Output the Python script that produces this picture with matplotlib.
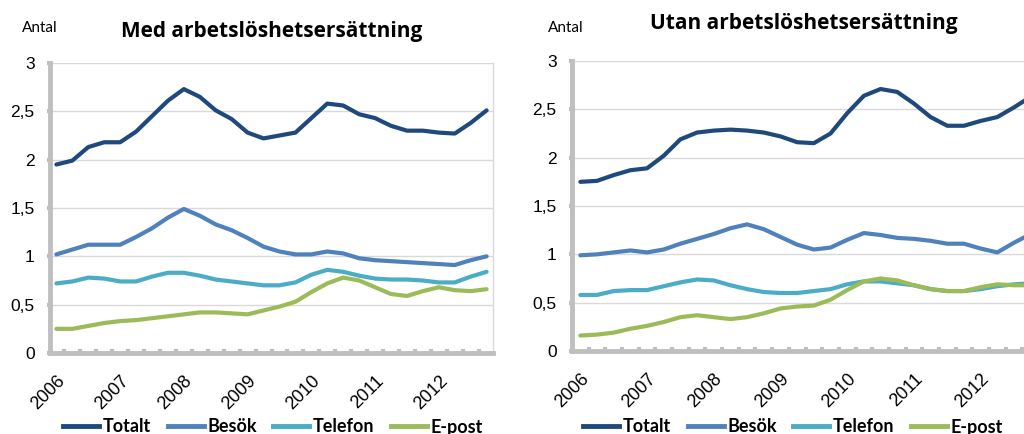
import matplotlib.pyplot as plt
import numpy as np
from matplotlib.lines import Line2D

# kvartalsvärden 2006 Q1 - 2012 Q4
years = ['2006', '2007', '2008', '2009', '2010', '2011', '2012']
series_names = ['Totalt', 'Besök', 'Telefon', 'E-post']
colors = ['#1F497D', '#4F81BD', '#4BACC6', '#9BBB59']

med_totalt = [1.95, 1.99, 2.13, 2.18, 2.18, 2.29, 2.45, 2.61, 2.73, 2.65, 2.51, 2.42, 2.28, 2.22,
              2.25, 2.28, 2.43, 2.58, 2.56, 2.47, 2.43, 2.35, 2.30, 2.30, 2.28, 2.27, 2.38, 2.51]
med_besok = [1.02, 1.07, 1.12, 1.12, 1.12, 1.20, 1.29, 1.40, 1.49, 1.42, 1.33, 1.27, 1.19, 1.10,
             1.05, 1.02, 1.02, 1.05, 1.03, 0.98, 0.96, 0.95, 0.94, 0.93, 0.92, 0.91, 0.96, 1.00]
med_telefon = [0.72, 0.74, 0.78, 0.77, 0.74, 0.74, 0.79, 0.83, 0.83, 0.80, 0.76, 0.74, 0.72, 0.70,
               0.70, 0.73, 0.81, 0.86, 0.84, 0.80, 0.77, 0.76, 0.76, 0.75, 0.73, 0.73, 0.79, 0.84]
med_epost = [0.25, 0.25, 0.28, 0.31, 0.33, 0.34, 0.36, 0.38, 0.40, 0.42, 0.42, 0.41, 0.40, 0.44,
             0.48, 0.53, 0.63, 0.72, 0.78, 0.75, 0.68, 0.61, 0.59, 0.64, 0.68, 0.65, 0.64, 0.66]

utan_totalt = [1.75, 1.76, 1.82, 1.87, 1.89, 2.02, 2.19, 2.26, 2.28, 2.29, 2.28, 2.26, 2.22, 2.16,
               2.15, 2.25, 2.46, 2.64, 2.71, 2.68, 2.56, 2.42, 2.33, 2.33, 2.38, 2.42, 2.52, 2.63]
utan_besok = [0.99, 1.00, 1.02, 1.04, 1.02, 1.05, 1.11, 1.16, 1.21, 1.27, 1.31, 1.26, 1.18, 1.10,
              1.05, 1.07, 1.15, 1.22, 1.20, 1.17, 1.16, 1.14, 1.11, 1.11, 1.06, 1.02, 1.12, 1.21]
utan_telefon = [0.58, 0.58, 0.62, 0.63, 0.63, 0.67, 0.71, 0.74, 0.73, 0.68, 0.64, 0.61, 0.60, 0.60,
                0.62, 0.64, 0.69, 0.72, 0.72, 0.70, 0.68, 0.64, 0.62, 0.62, 0.64, 0.67, 0.69, 0.70]
utan_epost = [0.16, 0.17, 0.19, 0.23, 0.26, 0.30, 0.35, 0.37, 0.35, 0.33, 0.35, 0.39, 0.44, 0.46,
              0.47, 0.53, 0.63, 0.72, 0.75, 0.73, 0.68, 0.64, 0.62, 0.62, 0.66, 0.69, 0.68, 0.68]

plt.rcParams['font.family'] = ['Liberation Sans', 'DejaVu Sans']

W, H = 1024, 434
fig = plt.figure(figsize=(W / 100, H / 100), dpi=100)
fig.patch.set_facecolor('white')

grey = '#BFBFBF'
grid = '#D9D9D9'


def panel(rect, data, xlim, title, title_xy, antal_xy, legend_x, right_spine=True):
    ax = fig.add_axes(rect)
    q = np.arange(len(data[0]))
    for vals, c in zip(data, colors):
        ax.plot(q, vals, color=c, lw=3, solid_capstyle='round', solid_joinstyle='round', zorder=3)
    ax.set_xlim(*xlim)
    ax.set_ylim(0, 3)
    ax.set_yticks([0, 0.5, 1, 1.5, 2, 2.5, 3])
    ax.set_yticklabels(['0', '0,5', '1', '1,5', '2', '2,5', '3'], fontsize=12.5)
    ax.yaxis.grid(True, color=grid, lw=1)
    ax.set_axisbelow(True)
    ax.set_xticks(np.arange(0, len(q), 4))
    ax.set_xticklabels(years, fontsize=13, rotation=45, ha='right', va='top',
                       rotation_mode='anchor')
    ax.set_xticks(np.arange(0.5, len(q) - 0.5, 1), minor=True)
    ax.tick_params(axis='x', which='major', length=0, pad=14)
    ax.tick_params(axis='x', which='minor', direction='in', length=3, width=3, color=grey)
    ax.tick_params(axis='y', length=2, width=3, color=grey, pad=9)
    ax.spines['top'].set_visible(False)
    ax.spines['left'].set_color(grey)
    ax.spines['left'].set_linewidth(3.5)
    ax.spines['bottom'].set_color(grey)
    ax.spines['bottom'].set_linewidth(3.5)
    if right_spine:
        ax.spines['right'].set_color(grid)
        ax.spines['right'].set_linewidth(1)
    else:
        ax.spines['right'].set_visible(False)

    fig.text(title_xy[0] / W, 1 - title_xy[1] / H, title, ha='center', va='center',
             fontsize=15, fontweight='bold', family='Open Sans')
    fig.text(antal_xy[0] / W, 1 - antal_xy[1] / H, 'Antal', ha='left', va='center',
             fontsize=11, family='Lato')

    handles = [Line2D([], [], color=c, lw=3.5) for c in colors]
    fig.legend(handles, series_names, loc='center', ncol=4, frameon=False,
               bbox_to_anchor=(legend_x / W, 1 - 427 / H),
               prop={'family': 'Lato', 'weight': 'bold', 'size': 13},
               handlelength=2.0, handletextpad=0.2, columnspacing=0.9)
    return ax


panel([50 / W, 81 / H, 443 / W, 290 / H],
      [med_totalt, med_besok, med_telefon, med_epost], (-0.4, 27.4),
      'Med arbetslöshetsersättning', (272, 31), (22, 28), 273)

panel([572 / W, 83 / H, 467 / W, 290 / H],
      [utan_totalt, utan_besok, utan_telefon, utan_epost], (-0.5, 27.5),
      'Utan arbetslöshetsersättning', (804, 23), (548, 28), 793, right_spine=False)

fig.savefig('out.png', dpi=100)
